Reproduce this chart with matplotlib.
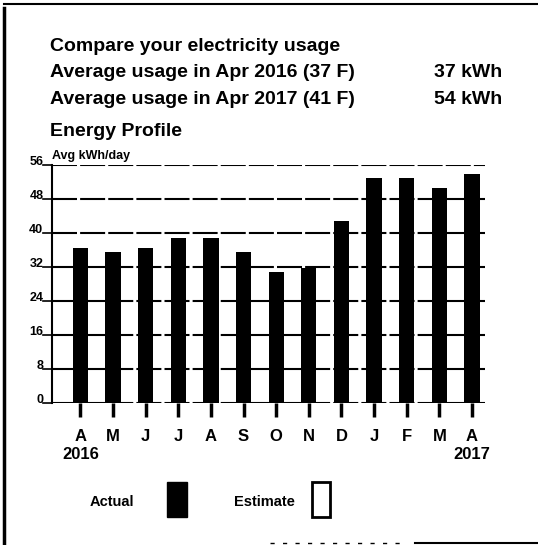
import numpy as np
import matplotlib
matplotlib.use("Agg")
import matplotlib.pyplot as plt
import matplotlib.transforms as mtransforms
from matplotlib.patches import Rectangle
from matplotlib.lines import Line2D

months = ["A", "M", "J", "J", "A", "S", "O", "N", "D", "J", "F", "M", "A"]
years = {0: "2016", 12: "2017"}
usage = [36.5, 35.5, 36.5, 38.8, 38.8, 35.5, 30.8, 31.8, 42.8, 53.0, 53.0, 50.6, 54.0]
yticks = [0, 8, 16, 24, 32, 40, 48, 56]

header = [
    ("Compare your electricity usage", ""),
    ("Average usage in Apr 2016 (37 F)", "37 kWh"),
    ("Average usage in Apr 2017 (41 F)", "54 kWh"),
    ("Energy Profile", ""),
]

plt.rcParams['font.family'] = ['Liberation Sans', 'DejaVu Sans']
plt.rcParams['font.weight'] = 'bold'

W, H = 538, 545
fig = plt.figure(figsize=(W / 100, H / 100), dpi=100)


def fx(px):
    return px / W


def fy(py):
    return 1 - py / H


# header text
baselines = [51, 77, 104, 135.5]
for (left, right), b in zip(header, baselines):
    fig.text(fx(50), fy(b), left, fontsize=14, fontweight='bold', va='baseline', ha='left')
    if right:
        fig.text(fx(502), fy(b), right, fontsize=14, fontweight='bold', va='baseline', ha='right')

ax = fig.add_axes([fx(52), fy(403), fx(485) - fx(52), fy(165) - fy(403)])
x = np.arange(len(usage))
ax.bar(x, usage, width=0.47, color='black', zorder=3)

ax.set_xlim(-0.87, 12.4)
ax.set_ylim(0, 56)

for v in yticks:
    ax.axhline(v, color='black', lw=1.5, ls=(0, (12, 1.5)), zorder=1)

for s in ['top', 'right', 'bottom']:
    ax.spines[s].set_visible(False)
ax.spines['left'].set_linewidth(1.5)

ax.set_yticks([])
ax.set_xticks(x)
labels = []
for i, m in enumerate(months):
    labels.append(m + "\n" + years[i] if i in years else m)
ax.set_xticklabels(labels, fontsize=12, fontweight='bold', linespacing=1.2, va='top')
ax.tick_params(axis='x', length=10, width=2.5, direction='out', pad=9)

trans = mtransforms.blended_transform_factory(ax.transAxes, ax.transData)
for v in yticks:
    ax.text(-0.02, v, str(v), transform=trans, ha='right', va='baseline',
            fontsize=9, fontweight='bold')
    ax.plot([-0.02, 0], [v, v], transform=trans, color='black', lw=1.2, clip_on=False)

ax.text(0.0, 56.6, "Avg kWh/day", transform=trans,
        ha='left', va='bottom', fontsize=9, fontweight='bold')

# legend
fig.text(fx(112), fy(502), "Actual", fontsize=10.5, fontweight='bold', ha='center', va='center')
fig.patches.append(Rectangle((fx(167), fy(517)), fx(20), fy(482) - fy(517),
                             transform=fig.transFigure, facecolor='black', edgecolor='black', lw=1))
fig.text(fx(264), fy(502), "Estimate", fontsize=10.5, fontweight='bold', ha='center', va='center')
fig.patches.append(Rectangle((fx(312), fy(517)), fx(18), fy(482) - fy(517),
                             transform=fig.transFigure, facecolor='white', edgecolor='black', lw=2))

# page border
fig.add_artist(Line2D([fx(4), fx(4)], [fy(8), fy(545)], color='black', lw=2.5))
fig.add_artist(Line2D([fx(4), fx(538)], [fy(4), fy(4)], color='black', lw=1.5))
fig.add_artist(Line2D([fx(415), fx(538)], [fy(543), fy(543)], color='black', lw=1.5))
fig.add_artist(Line2D([fx(270), fx(400)], [fy(543), fy(543)], color='black', lw=1, ls=(0, (3, 6))))

fig.savefig("out.png", dpi=100)
